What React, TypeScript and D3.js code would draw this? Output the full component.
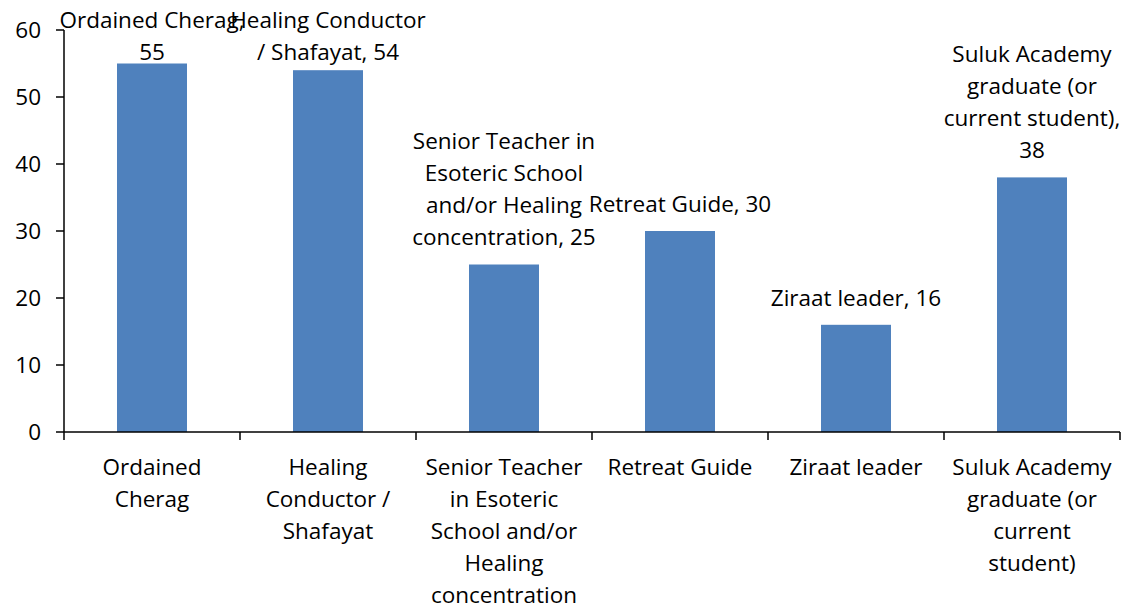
import React from "react";
import * as d3 from "d3";

const categories = ["Ordained Cherag", "Healing Conductor / Shafayat", "Senior Teacher in Esoteric School and/or Healing concentration", "Retreat Guide", "Ziraat leader", "Suluk Academy graduate (or current student)"];
const values = [55, 54, 25, 30, 16, 38];
const axisLabelLines = [
  ["Ordained", "Cherag"],
  ["Healing", "Conductor /", "Shafayat"],
  ["Senior Teacher", "in Esoteric", "School and/or", "Healing", "concentration"],
  ["Retreat Guide"],
  ["Ziraat leader"],
  ["Suluk Academy", "graduate (or", "current", "student)"],
];
const dataLabelLines = [
  ["Ordained Cherag,", "55"],
  ["Healing Conductor", "/ Shafayat, 54"],
  ["Senior Teacher in", "Esoteric School", "and/or Healing", "concentration, 25"],
  ["Retreat Guide, 30"],
  ["Ziraat leader, 16"],
  ["Suluk Academy", "graduate (or", "current student),", "38"],
];
const yTicks = [0, 10, 20, 30, 40, 50, 60];

export default function App() {
  const W = 1130, H = 611;
  const left = 64, right = 1120, top = 30, bottom = 432;
  const x = d3.scaleBand<string>().domain(categories).range([left, right]).paddingInner(0).paddingOuter(0);
  const y = d3.scaleLinear().domain([0, 60]).range([bottom, top]);
  const barW = 70;
  const lh = 32;
  const font = "'Open Sans', sans-serif";
  const fs = 22.5;
  const boundaries = d3.range(categories.length + 1).map((i) => left + i * x.bandwidth());
  return (
    <svg width={W} height={H} style={{ position: "absolute", left: 0, top: 0 }} fontFamily={font} fontSize={fs}>
      <rect width={W} height={H} fill="#fff" />
      {categories.map((c, i) => {
        const cx = (x(c) as number) + x.bandwidth() / 2;
        return (
          <rect key={c} x={cx - barW / 2} y={y(values[i])} width={barW} height={bottom - y(values[i])} fill="#4F81BD" />
        );
      })}
      <line x1={left} x2={left} y1={top} y2={bottom} stroke="#000" strokeWidth={1.5} />
      <line x1={left} x2={right} y1={bottom} y2={bottom} stroke="#000" strokeWidth={1.5} />
      {yTicks.map((t) => (
        <g key={t}>
          <line x1={left - 8} x2={left} y1={y(t)} y2={y(t)} stroke="#000" strokeWidth={1.5} />
          <text x={41} y={y(t)} dy="0.35em" textAnchor="end" fill="#000">{t}</text>
        </g>
      ))}
      {boundaries.map((b, i) => (
        <line key={i} x1={b} x2={b} y1={bottom} y2={bottom + 8} stroke="#000" strokeWidth={1.5} />
      ))}
      {categories.map((c, i) => {
        const cx = (x(c) as number) + x.bandwidth() / 2;
        return (
          <text key={c} x={cx} textAnchor="middle" fill="#000">
            {axisLabelLines[i].map((l, j) => (
              <tspan key={j} x={cx} y={467 + j * lh} dy="0.35em">{l}</tspan>
            ))}
          </text>
        );
      })}
      {categories.map((c, i) => {
        const cx = (x(c) as number) + x.bandwidth() / 2;
        const lines = dataLabelLines[i];
        const n = lines.length;
        const lastCenter = Math.max(y(values[i]) - 27, 20 + (n - 1) * lh);
        return (
          <text key={c} x={cx} textAnchor="middle" fill="#000">
            {lines.map((l, j) => (
              <tspan key={j} x={cx} y={lastCenter - (n - 1 - j) * lh} dy="0.35em">{l}</tspan>
            ))}
          </text>
        );
      })}
    </svg>
  );
}
